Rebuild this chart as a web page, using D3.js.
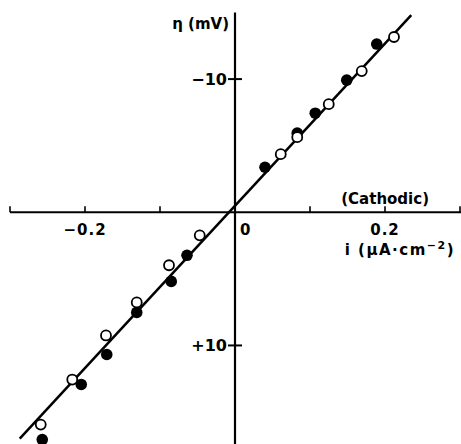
<!DOCTYPE html>
<html>
<head>
<meta charset="utf-8">
<script src="https://cdn.jsdelivr.net/npm/d3@7"></script>
<style>
  body { margin: 0; background: #fff; }
  svg text { font-family: "DejaVu Sans", sans-serif; fill: #000; font-weight: bold; }
</style>
</head>
<body>
<svg id="chart" width="461" height="444"></svg>
<script>
// current density i (uA cm^-2) and overpotential eta (mV)
var openI   = [0.061, 0.083, 0.125, 0.169, 0.212, -0.047, -0.088, -0.131, -0.172, -0.217, -0.259];
var openEta = [-4.36, -5.64, -8.12, -10.6, -13.16, 1.73, 3.98, 6.77, 9.25, 12.56, 15.94];

var filledI   = [0.040, 0.083, 0.107, 0.149, 0.189, -0.064, -0.085, -0.131, -0.171, -0.205, -0.257];
var filledEta = [-3.38, -5.94, -7.44, -9.92, -12.63, 3.23, 5.19, 7.52, 10.68, 12.93, 17.07];

var lineI   = [-0.287, 0.235];
var lineEta = [17.0, -14.8];

var xTicks = [-0.3, -0.2, -0.1, 0.1, 0.2, 0.3];
var xLabels = [-0.2, 0.2];
var yTicks = [-10, 10];

var width = 461,
    height = 444;

var x = d3.scaleLinear().domain([-0.3, 0.3]).range([10, 460]);
var y = d3.scaleLinear().domain([-15, 17.4]).range([12.5, 444]);

var svg = d3.select("#chart");

// horizontal axis
svg.append("line")
    .attr("x1", x(-0.3)).attr("x2", width)
    .attr("y1", y(0)).attr("y2", y(0))
    .style("stroke", "#000").style("stroke-width", 2.2);

svg.selectAll("line.xtick")
    .data(xTicks)
    .enter()
    .append("line")
    .attr("class", "xtick")
    .attr("x1", d => x(d)).attr("x2", d => x(d))
    .attr("y1", y(0)).attr("y2", y(0) - 6)
    .style("stroke", "#000").style("stroke-width", 1.6);

// vertical axis
svg.append("line")
    .attr("x1", x(0)).attr("x2", x(0))
    .attr("y1", y(-15)).attr("y2", height)
    .style("stroke", "#000").style("stroke-width", 2.2);

svg.selectAll("line.ytick")
    .data(yTicks)
    .enter()
    .append("line")
    .attr("class", "ytick")
    .attr("x1", x(0) - 7).attr("x2", x(0) + 7)
    .attr("y1", d => y(d)).attr("y2", d => y(d))
    .style("stroke", "#000").style("stroke-width", 2);

// tick labels
svg.selectAll("text.xlab")
    .data(xLabels)
    .enter()
    .append("text")
    .attr("class", "xlab")
    .attr("x", d => x(d))
    .attr("y", y(0) + 23)
    .attr("text-anchor", "middle")
    .style("font-size", "15px")
    .style("letter-spacing", "1px")
    .text(d => d < 0 ? "\u22120.2" : "0.2");

svg.append("text")
    .attr("x", x(0) + 5)
    .attr("y", y(0) + 23)
    .style("font-size", "15px")
    .text("0");

svg.selectAll("text.ylab")
    .data(yTicks)
    .enter()
    .append("text")
    .attr("class", "ylab")
    .attr("x", x(0) - 8)
    .attr("y", d => y(d) + 6)
    .attr("text-anchor", "end")
    .style("font-size", "16px")
    .text(d => d < 0 ? "\u221210" : "+10");

// axis titles
svg.append("text")
    .attr("x", x(0) - 6)
    .attr("y", 29)
    .attr("text-anchor", "end")
    .style("font-size", "15px")
    .text("\u03b7 (mV)");

svg.append("text")
    .attr("x", 429)
    .attr("y", 204)
    .attr("text-anchor", "end")
    .style("font-size", "15px")
    .text("(Cathodic)");

var lab = svg.append("text")
    .attr("x", 455)
    .attr("y", 255)
    .attr("text-anchor", "end")
    .style("font-size", "15px")
    .style("letter-spacing", "1.5px");
lab.append("tspan").text("i (\u03bcA\u00b7cm");
lab.append("tspan").attr("dy", -6).style("font-size", "11px").text("\u22122");
lab.append("tspan").attr("dy", 6).text(")");

// fitted line
var line = d3.line()
    .x(d => x(d[0]))
    .y(d => y(d[1]));

svg.append("path")
    .datum(d3.zip(lineI, lineEta))
    .attr("d", line)
    .style("fill", "none")
    .style("stroke", "#000")
    .style("stroke-width", 2.5);

// points
svg.selectAll("circle.filled")
    .data(d3.zip(filledI, filledEta))
    .enter()
    .append("circle")
    .attr("class", "filled")
    .attr("cx", d => x(d[0]))
    .attr("cy", d => y(d[1]))
    .attr("r", 5.8)
    .style("fill", "#000");

svg.selectAll("circle.open")
    .data(d3.zip(openI, openEta))
    .enter()
    .append("circle")
    .attr("class", "open")
    .attr("cx", d => x(d[0]))
    .attr("cy", d => y(d[1]))
    .attr("r", 5)
    .style("fill", "#fff")
    .style("stroke", "#000")
    .style("stroke-width", 1.8);
</script>
</body>
</html>
